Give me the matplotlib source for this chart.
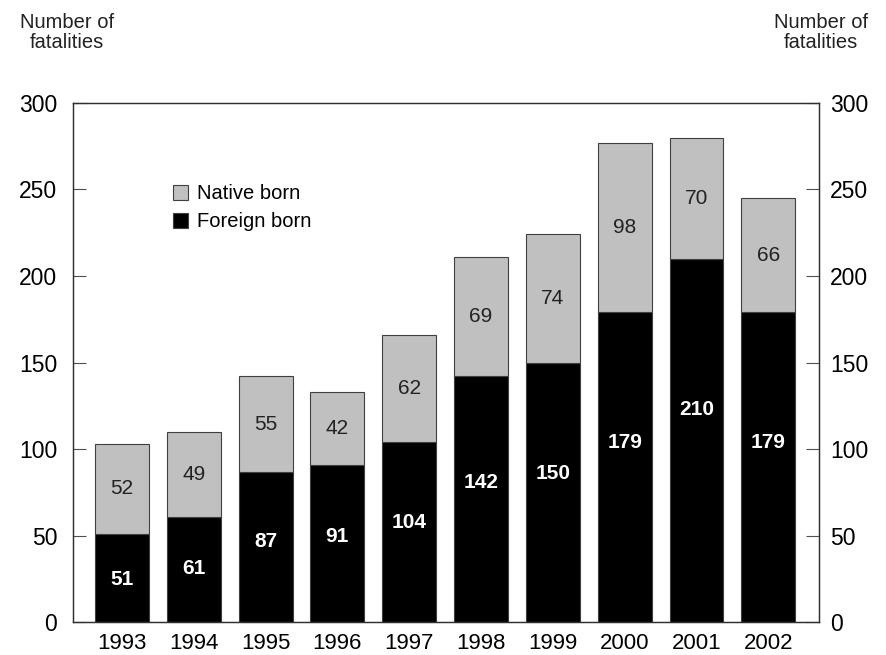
import matplotlib.pyplot as plt
import numpy as np

plt.rcParams['font.family'] = ['Liberation Sans', 'DejaVu Sans']

# Fatalities by year, split into foreign born and native born
years = ['1993', '1994', '1995', '1996', '1997', '1998', '1999', '2000', '2001', '2002']
foreign_born = [51, 61, 87, 91, 104, 142, 150, 179, 210, 179]
native_born = [52, 49, 55, 42, 62, 69, 74, 98, 70, 66]
y_ticks = [0, 50, 100, 150, 200, 250, 300]

edge = '#404040'
gray = '#c0c0c0'

fig = plt.figure(figsize=(8.86, 6.55), dpi=100)
ax = fig.add_axes([0.082, 0.0499, 0.842, 0.793])

x = np.arange(len(years))
ax.bar(x, foreign_born, width=0.75, color='black', edgecolor=edge, linewidth=0.8, label='Foreign born')
ax.bar(x, native_born, width=0.75, bottom=foreign_born, color=gray, edgecolor=edge, linewidth=0.8,
       label='Native born')

for i in range(len(years)):
    # white labels sit a bit above the middle of the black segment
    ax.text(x[i], foreign_born[i] * 0.62 - 7, str(foreign_born[i]), ha='center', va='center',
            color='white', fontsize=15, fontweight='bold')
    ax.text(x[i], foreign_born[i] + native_born[i] / 2, str(native_born[i]), ha='center', va='center',
            color='#222222', fontsize=15)

ax.set_xlim(-0.686, len(years) - 1 + 0.70)
ax.set_ylim(0, 300)
ax.set_yticks(y_ticks)
ax.set_xticks(x)
ax.set_xticklabels(years, fontsize=16)
ax.tick_params(axis='x', length=0, pad=7.5, colors='black')
ax.tick_params(axis='y', direction='in', length=9.5, width=0.8, color='#505050', labelsize=16.5, pad=11)

ax2 = ax.twinx()
ax2.set_ylim(0, 300)
ax2.set_yticks(y_ticks)
ax2.tick_params(axis='y', direction='in', length=9.5, width=0.8, color='#505050', labelsize=16.5, pad=8)

for a in (ax, ax2):
    for s in a.spines.values():
        s.set_color('#303030')
        s.set_linewidth(0.9)

handles, labels = ax.get_legend_handles_labels()
ax.legend(handles[::-1], labels[::-1], loc='upper left', bbox_to_anchor=(0.11, 0.878), frameon=False,
          fontsize=14.5, handlelength=0.75, handleheight=0.75, handletextpad=0.45, labelspacing=0.45)

fig.text(67 / 886, 1 - 13 / 655, 'Number of\nfatalities', ha='center', va='top', fontsize=14.5,
         color='#222222', linespacing=1.1)
fig.text(821 / 886, 1 - 13 / 655, 'Number of\nfatalities', ha='center', va='top', fontsize=14.5,
         color='#222222', linespacing=1.1)

fig.savefig('out.png', dpi=100)
